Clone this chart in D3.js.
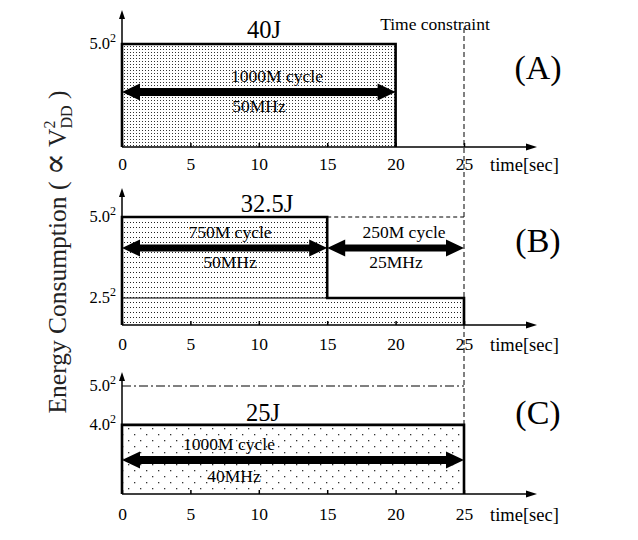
<!DOCTYPE html>
<html><head><meta charset="utf-8">
<script src="https://cdn.jsdelivr.net/npm/d3@7"></script>
<style>body{margin:0;background:#fff}</style>
</head><body>
<svg id="chart" width="638" height="540"></svg>
<script>
// ---------- data ----------
const timeTicks = [0, 5, 10, 15, 20, 25];
const timeConstraint = 25;
const refVdd = 5.0;
const panelNames = ["(A)", "(B)", "(C)"];
const energyTotals = ["40J", "32.5J", "25J"];
const segStartA = [0],      segEndA = [20],     segVddA = [5.0];
const segStartB = [0, 15],  segEndB = [15, 25], segVddB = [5.0, 2.5];
const segStartC = [0],      segEndC = [25],     segVddC = [4.0];
const cyclesA = ["1000M cycle"],              clockA = ["50MHz"];
const cyclesB = ["750M cycle", "250M cycle"], clockB = ["50MHz", "25MHz"];
const cyclesC = ["1000M cycle"],              clockC = ["40MHz"];
const vddTicksA = [5.0], vddTicksB = [5.0, 2.5], vddTicksC = [5.0, 4.0];
const vddTickLabelsA = ["5.0"], vddTickLabelsB = ["5.0", "2.5"], vddTickLabelsC = ["5.0", "4.0"];

// ---------- layout ----------
const FONT = "'Liberation Serif', 'Times New Roman', serif";
const layout = [
  {axisY:147, topY:44, arrowTop:10, arrowY:92, shaft:8, energyX:264, energyY:38, nameY:79, tickY:170,
   cycleX:[277], cycleY:82, clockX:[259], clockY:112, pattern:"dotsA", ref:null},
  {axisY:325, topY:217, arrowTop:188, arrowY:248, shaft:7, energyX:267, energyY:212, nameY:252, tickY:350,
   cycleX:[230, 404], cycleY:238, clockX:[230, 396], clockY:268, pattern:"dotsB", ref:{from:15, to:25, dash:"4,3"}},
  {axisY:494, topY:386, arrowTop:372, arrowY:460, shaft:8, energyX:263, energyY:421, nameY:424, tickY:520,
   cycleX:[229], cycleY:450, clockX:[234], clockY:482, pattern:"dotsC", ref:{from:0, to:25, dash:"9,3,2,3"}}
];
const panels = [
  {starts:segStartA, ends:segEndA, vdd:segVddA, cycles:cyclesA, clocks:clockA, ticks:vddTicksA, tickLabels:vddTickLabelsA},
  {starts:segStartB, ends:segEndB, vdd:segVddB, cycles:cyclesB, clocks:clockB, ticks:vddTicksB, tickLabels:vddTickLabelsB},
  {starts:segStartC, ends:segEndC, vdd:segVddC, cycles:cyclesC, clocks:clockC, ticks:vddTicksC, tickLabels:vddTickLabelsC}
];

const svg = d3.select("#chart").style("font-family", FONT);
const x = d3.scaleLinear().domain([0, 25]).range([122, 464]);

// patterns
const defs = svg.append("defs");
const pA = defs.append("pattern").attr("id","dotsA").attr("patternUnits","userSpaceOnUse").attr("width",3).attr("height",3);
pA.append("rect").attr("width",3).attr("height",3).attr("fill","#fff");
pA.append("rect").attr("x",1).attr("y",1).attr("width",1).attr("height",1).attr("fill","#333");
const pB = defs.append("pattern").attr("id","dotsB").attr("patternUnits","userSpaceOnUse").attr("width",3).attr("height",5);
pB.append("rect").attr("width",3).attr("height",5).attr("fill","#fff");
pB.append("rect").attr("x",1).attr("y",2).attr("width",1).attr("height",1).attr("fill","#222");
const pC = defs.append("pattern").attr("id","dotsC").attr("patternUnits","userSpaceOnUse").attr("width",12).attr("height",12);
pC.append("rect").attr("width",12).attr("height",12).attr("fill","#fff");
pC.append("rect").attr("x",2).attr("y",2).attr("width",1.3).attr("height",1.3).attr("fill","#333");
pC.append("rect").attr("x",8).attr("y",8).attr("width",1.3).attr("height",1.3).attr("fill","#333");

// time-constraint dashed vertical line (behind everything)
const yC = d3.scaleLinear().domain([0, 25]).range([layout[2].axisY, layout[2].topY]);
svg.append("line")
  .attr("x1", x(timeConstraint)).attr("x2", x(timeConstraint))
  .attr("y1", 28).attr("y2", yC(d3.max(segVddC) ** 2))
  .attr("stroke","#000").attr("stroke-width",1).attr("stroke-dasharray","5,3");
svg.append("text").attr("x", 435).attr("y", 30).attr("text-anchor","middle")
  .attr("font-size", 17.5).text("Time constraint");

function thickArrow(g, x1, x2, yc, shaft, headL, headH) {
  const s = shaft / 2;
  const p = d3.path();
  p.moveTo(x1, yc);
  p.lineTo(x1 + headL, yc - headH);
  p.lineTo(x1 + headL, yc - s);
  p.lineTo(x2 - headL, yc - s);
  p.lineTo(x2 - headL, yc - headH);
  p.lineTo(x2, yc);
  p.lineTo(x2 - headL, yc + headH);
  p.lineTo(x2 - headL, yc + s);
  p.lineTo(x1 + headL, yc + s);
  p.lineTo(x1 + headL, yc + headH);
  p.closePath();
  g.append("path").attr("d", p.toString()).attr("fill", "#000");
}

panels.forEach((pd, i) => {
  const L = layout[i];
  const g = svg.append("g");
  const y = d3.scaleLinear().domain([0, 25]).range([L.axisY, L.topY]);

  if (L.ref) {
    g.append("line").attr("x1", x(L.ref.from)).attr("x2", x(L.ref.to))
      .attr("y1", y(refVdd ** 2)).attr("y2", y(refVdd ** 2))
      .attr("stroke","#000").attr("stroke-width",1).attr("stroke-dasharray", L.ref.dash);
  }

  const pts = [];
  pd.starts.forEach((s, k) => { pts.push([s, pd.vdd[k] ** 2]); pts.push([pd.ends[k], pd.vdd[k] ** 2]); });
  const area = d3.area().x(d => x(d[0])).y0(y(0)).y1(d => y(d[1]));
  g.append("path").datum(pts).attr("d", area).attr("fill", `url(#${L.pattern})`);

  pd.ticks.forEach(v => {
    const k = pd.vdd.indexOf(v);
    if (k > 0) {
      g.append("line").attr("x1", x(0)).attr("x2", x(pd.starts[k]))
        .attr("y1", y(v ** 2)).attr("y2", y(v ** 2))
        .attr("stroke","#000").attr("stroke-width",1);
    }
  });

  const outline = [[pts[0][0], 0], ...pts, [pts[pts.length - 1][0], 0]];
  const line = d3.line().x(d => x(d[0])).y(d => y(d[1]));
  g.append("path").datum(outline).attr("d", line).attr("fill","none")
    .attr("stroke","#000").attr("stroke-width",2.6).attr("stroke-linejoin","miter");

  // x axis
  const ax = g.append("g").attr("transform", `translate(0,${L.axisY})`)
    .call(d3.axisBottom(x).tickValues(timeTicks).tickSizeInner(-4).tickSizeOuter(0).tickPadding(11).tickFormat(d3.format("d")));
  ax.select(".domain").remove();
  ax.selectAll(".tick line").attr("stroke","#000").attr("stroke-width",1.5);
  ax.selectAll(".tick text").attr("font-family", FONT).attr("font-size", 17.5).attr("fill","#000")
    .attr("dy", null).attr("y", L.tickY - L.axisY);
  g.append("line").attr("x1", x(0)).attr("x2", 530).attr("y1", L.axisY).attr("y2", L.axisY)
    .attr("stroke","#000").attr("stroke-width",1.3);
  g.append("path").attr("d", `M537,${L.axisY} L526,${L.axisY - 3.5} L526,${L.axisY + 3.5} Z`).attr("fill","#000");
  g.append("text").attr("x", 490).attr("y", L.tickY + 1).attr("font-size", 18.5).text("time[sec]");

  // y axis
  g.append("line").attr("x1", x(0)).attr("x2", x(0)).attr("y1", L.axisY).attr("y2", L.arrowTop + 6)
    .attr("stroke","#000").attr("stroke-width",1.5);
  g.append("path").attr("d", `M${x(0)},${L.arrowTop} L${x(0) - 3},${L.arrowTop + 9} L${x(0) + 3},${L.arrowTop + 9} Z`).attr("fill","#000");
  pd.ticks.forEach((v, k) => {
    const t = g.append("text").attr("x", 116).attr("y", y(v ** 2) + 5).attr("text-anchor","end").attr("font-size", 16.5);
    t.append("tspan").text(pd.tickLabels[k]);
    t.append("tspan").attr("font-size", 12).attr("dy", -7).text("2");
  });

  pd.starts.forEach((s, k) => {
    thickArrow(g, x(s), x(pd.ends[k]), L.arrowY, L.shaft, 18, 8.5);
    g.append("text").attr("x", L.cycleX[k]).attr("y", L.cycleY).attr("text-anchor","middle")
      .attr("font-size", 17.5).text(pd.cycles[k]);
    g.append("text").attr("x", L.clockX[k]).attr("y", L.clockY).attr("text-anchor","middle")
      .attr("font-size", 17.5).text(pd.clocks[k]);
  });

  g.append("text").attr("x", L.energyX).attr("y", L.energyY).attr("text-anchor","middle")
    .attr("font-size", 24.5).text(energyTotals[i]);
  g.append("text").attr("x", 538).attr("y", L.nameY).attr("text-anchor","middle")
    .attr("font-size", 34).text(panelNames[i]);
});

// y axis title
const yt = svg.append("text").attr("transform", "translate(66,252) rotate(-90)")
  .attr("text-anchor","middle").attr("font-size", 25.5).attr("fill","#222");
yt.append("tspan").text("Energy Consumption ( ");
yt.append("tspan").attr("font-size", 33).attr("font-family","'DejaVu Serif', serif").text("\u221D");
yt.append("tspan").text(" V");
yt.append("tspan").attr("font-size", 16).attr("dy", -11).text("2");
yt.append("tspan").attr("font-size", 16).attr("dx", -8).attr("dy", 17).text("DD");
yt.append("tspan").attr("dy", -6).text(" )");
</script>
</body></html>
